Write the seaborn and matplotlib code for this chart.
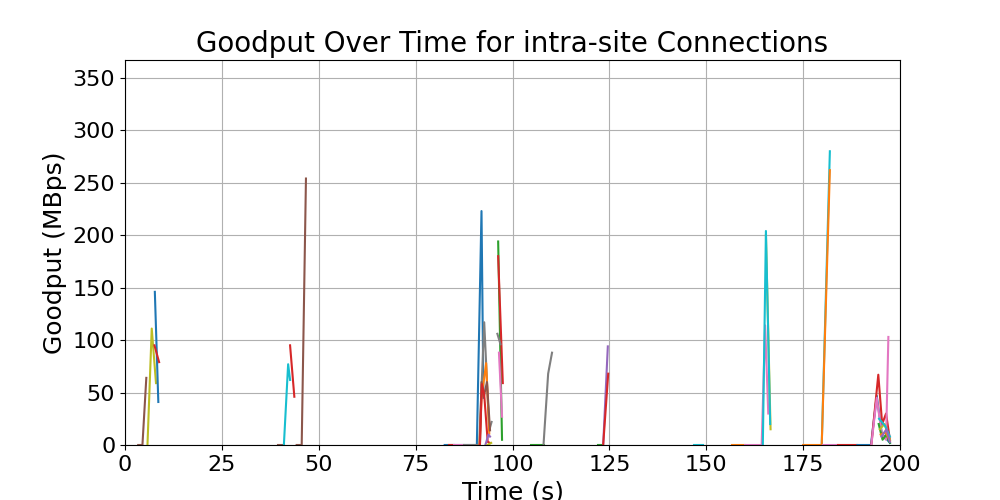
import matplotlib
matplotlib.use("Agg")
import matplotlib.pyplot as plt
import seaborn as sns
import pandas as pd

# ---- data: each connection is (time s, goodput MBps) ----
c01_t = [3.4, 4.5, 5.5];            c01_v = [0, 0, 64]
c02_t = [5.8, 6.9, 8.0];            c02_v = [0, 111, 59]
c03_t = [7.7, 8.6];                 c03_v = [146, 41]
c04_t = [7.6, 8.8];                 c04_v = [95, 79]
c05_t = [39.5, 41.0];               c05_v = [0, 0]
c06_t = [41.0, 42.1, 42.6];         c06_v = [0, 77, 62]
c07_t = [42.6, 43.7];               c07_v = [95, 46]
c08_t = [44.3, 45.6, 46.7];         c08_v = [0, 0, 254]
c09_t = [82.5, 84.5, 88.0, 90.8, 92.0, 92.5];  c09_v = [0, 0, 0, 0, 223, 45]
c10_t = [83.7, 85.0];               c10_v = [0, 0]
c11_t = [85.0, 87.5];               c11_v = [0, 0]
c12_t = [87.5, 91.4, 92.7, 94.0, 94.6];  c12_v = [0, 0, 117, 14, 22]
c13_t = [91.5, 92.0, 93.2, 94.0];   c13_v = [0, 45, 78, 11]
c14_t = [91.6, 92.0, 92.6, 93.4, 94.2];  c14_v = [0, 60, 46, 60, 14]
c15_t = [91.6, 92.1, 92.7, 93.6, 94.2];  c15_v = [0, 58, 48, 3, 2]
c16_t = [93.0, 93.8, 94.2];         c16_v = [0, 10, 8]
c17_t = [93.5, 94.5];               c17_v = [0, 2]
c18_t = [96.3, 97.3];               c18_v = [194, 5]
c19_t = [96.3, 97.5];               c19_v = [180, 59]
c20_t = [96.1, 96.9];               c20_v = [106, 96]
c21_t = [96.5, 97.3];               c21_v = [88, 27]
c22_t = [104.8, 108.0];             c22_v = [0, 0]
c23_t = [108.0, 109.2, 110.2];      c23_v = [0, 68, 88]
c24_t = [122.0, 123.2];             c24_v = [0, 0]
c25_t = [123.4, 124.6];             c25_v = [0, 94]
c26_t = [123.4, 124.7];             c26_v = [0, 68]
c27_t = [146.8, 149.1];             c27_v = [0, 0]
c28_t = [156.6, 160.0];             c28_v = [0, 0]
c29_t = [160.0, 164.3, 165.2, 166.0];  c29_v = [0, 0, 114, 30]
c30_t = [165.4, 166.6];             c30_v = [200, 15]
c31_t = [164.6, 165.4, 166.5];      c31_v = [0, 204, 20]
c32_t = [179.8, 181.9];             c32_v = [0, 280]
c33_t = [175.0, 179.8, 181.9];      c33_v = [0, 0, 262]
c34_t = [180.0, 184.0];             c34_v = [0, 0]
c35_t = [184.0, 189.0];             c35_v = [0, 0]
c36_t = [189.0, 192.5, 194.0, 195.3, 197.4];  c36_v = [0, 0, 47, 11, 2]
c37_t = [192.6, 194.4, 195.4, 196.4, 197.4];  c37_v = [0, 67, 20, 30, 5]
c38_t = [192.6, 194.0, 195.3, 196.4, 197.0];  c38_v = [0, 45, 10, 5, 103]
c39_t = [194.5, 195.5, 196.5, 197.4];  c39_v = [20, 5, 10, 2]
c40_t = [194.8, 196.0, 197.4];      c40_v = [15, 20, 5]
c41_t = [194.6, 196.2, 197.4];      c41_v = [25, 18, 8]
c42_t = [195.0, 196.3, 197.4];      c42_v = [10, 12, 4]
c43_t = [195.2, 196.5, 197.4];      c43_v = [8, 15, 3]

series = [
    ("c01", c01_t, c01_v), ("c02", c02_t, c02_v), ("c03", c03_t, c03_v), ("c04", c04_t, c04_v),
    ("c05", c05_t, c05_v), ("c06", c06_t, c06_v), ("c07", c07_t, c07_v), ("c08", c08_t, c08_v),
    ("c09", c09_t, c09_v), ("c10", c10_t, c10_v), ("c11", c11_t, c11_v), ("c12", c12_t, c12_v),
    ("c13", c13_t, c13_v), ("c14", c14_t, c14_v), ("c15", c15_t, c15_v), ("c16", c16_t, c16_v),
    ("c17", c17_t, c17_v), ("c18", c18_t, c18_v), ("c19", c19_t, c19_v), ("c20", c20_t, c20_v),
    ("c21", c21_t, c21_v), ("c22", c22_t, c22_v), ("c23", c23_t, c23_v), ("c24", c24_t, c24_v),
    ("c25", c25_t, c25_v), ("c26", c26_t, c26_v), ("c27", c27_t, c27_v), ("c28", c28_t, c28_v),
    ("c29", c29_t, c29_v), ("c30", c30_t, c30_v), ("c31", c31_t, c31_v), ("c32", c32_t, c32_v),
    ("c33", c33_t, c33_v), ("c34", c34_t, c34_v), ("c35", c35_t, c35_v), ("c36", c36_t, c36_v),
    ("c37", c37_t, c37_v), ("c38", c38_t, c38_v), ("c39", c39_t, c39_v), ("c40", c40_t, c40_v),
    ("c41", c41_t, c41_v), ("c42", c42_t, c42_v), ("c43", c43_t, c43_v),
]

# ---- styling: colour per connection ----
colors = {
    "c01": "tab:brown", "c02": "tab:olive", "c03": "tab:blue", "c04": "tab:red",
    "c05": "tab:brown", "c06": "tab:cyan", "c07": "tab:red", "c08": "tab:brown",
    "c09": "tab:blue", "c10": "tab:red", "c11": "tab:pink", "c12": "tab:gray",
    "c13": "tab:orange", "c14": "tab:brown", "c15": "tab:red", "c16": "tab:purple",
    "c17": "tab:olive", "c18": "tab:green", "c19": "tab:red", "c20": "tab:gray",
    "c21": "tab:pink", "c22": "tab:green", "c23": "tab:gray", "c24": "tab:green",
    "c25": "tab:purple", "c26": "tab:red", "c27": "tab:cyan", "c28": "tab:orange",
    "c29": "tab:pink", "c30": "tab:olive", "c31": "tab:cyan", "c32": "tab:cyan",
    "c33": "tab:orange", "c34": "tab:pink", "c35": "tab:red", "c36": "tab:blue",
    "c37": "tab:red", "c38": "tab:pink", "c39": "tab:green", "c40": "tab:olive",
    "c41": "tab:cyan", "c42": "tab:orange", "c43": "tab:purple",
}

rows = []
for name, ts, vs in series:
    for t, v in zip(ts, vs):
        rows.append({"conn": name, "time": t, "goodput": v})
df = pd.DataFrame(rows)

fig, ax = plt.subplots(figsize=(10, 5), dpi=100)
order = [name for name, _, _ in series]
sns.lineplot(data=df, x="time", y="goodput", hue="conn", hue_order=order,
             palette=colors, legend=False, ax=ax, linewidth=1.5,
             sort=False, estimator=None)

ax.set_xlim(0, 200)
ax.set_ylim(0, 367)
ax.set_xticks(range(0, 201, 25))
ax.set_yticks(range(0, 351, 50))
ax.grid(True, color="#b0b0b0", linewidth=0.8)
ax.set_axisbelow(True)
ax.tick_params(labelsize=16)
ax.set_xlabel("Time (s)", fontsize=18)
ax.set_ylabel("Goodput (MBps)", fontsize=18)
ax.set_title("Goodput Over Time for intra-site Connections", fontsize=20)

fig.savefig("out.png", dpi=100)
